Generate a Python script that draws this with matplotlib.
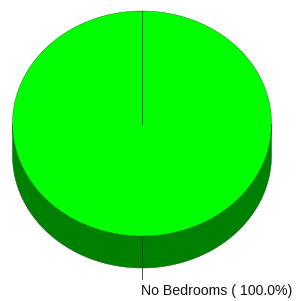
import numpy as np
import matplotlib.pyplot as plt
from matplotlib.patches import Polygon

labels = ['No Bedrooms']
values = [100.0]
top_colors = ['#00ff00']
side_colors = ['#008000']

cx, cy = 142, 123.5   # top face centre (pixels)
rx, ry = 129.5, 112.5  # semi-axes
depth = 32

fig = plt.figure(figsize=(2.98, 3.01), dpi=100)
ax = fig.add_axes([0, 0, 1, 1])
ax.set_xlim(0, 298)
ax.set_ylim(301, 0)
ax.axis('off')

total = sum(values)
start = 90.0
for lab, v, ct, cs in zip(labels, values, top_colors, side_colors):
    sweep = 360.0 * v / total
    # angles go clockwise on screen from the top
    t = np.radians(np.linspace(start, start - sweep, 200))
    x = cx + rx * np.cos(t)
    y = cy - ry * np.sin(t)

    # side wall: only the front half (lower on screen) is visible
    front = np.sin(t) <= 0
    if front.any():
        xs, ys = x[front], y[front]
        order = np.argsort(xs)
        xs, ys = xs[order], ys[order]
        side = np.concatenate([np.c_[xs, ys], np.c_[xs[::-1], ys[::-1] + depth]])
        ax.add_patch(Polygon(side, closed=True, fc=cs, ec='#005000', lw=0.3))

    # top face
    if sweep >= 360:
        face = np.c_[x, y]
    else:
        face = np.vstack([[cx, cy], np.c_[x, y]])
    ax.add_patch(Polygon(face, closed=True, fc=ct, ec='#007000', lw=0.3))

    # slice boundary
    ax.plot([cx, cx + rx * np.cos(np.radians(start))],
            [cy, cy - ry * np.sin(np.radians(start))], color='#333333', lw=0.6)

    # leader line and label at slice middle
    mid = np.radians(start - sweep / 2)
    ex, ey = cx + rx * np.cos(mid), cy - ry * np.sin(mid)
    ax.plot([ex, ex], [ey, ey + 43], color='#333333', lw=0.6)
    ax.text(ex - 1, ey + 55, f'{lab} ( {v:.1f}%)', fontsize=10.2,
            family='Liberation Sans', ha='left', va='center', color='#111111')
    start -= sweep

fig.savefig('out.png', dpi=100)
